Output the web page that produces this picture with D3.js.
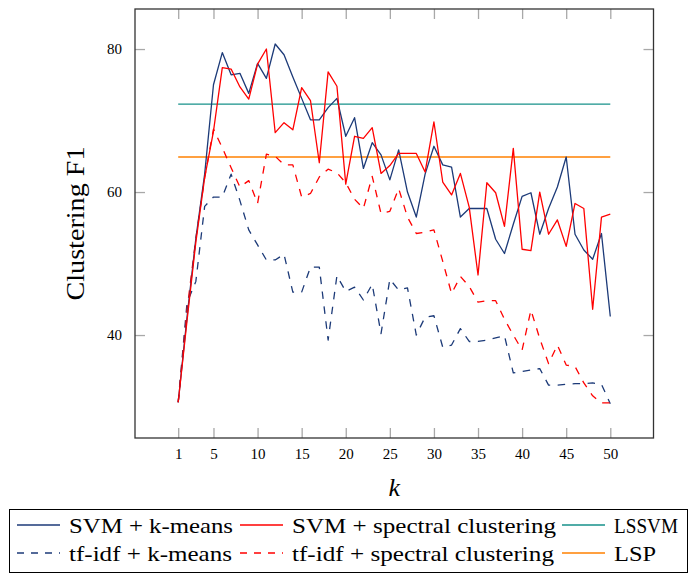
<!DOCTYPE html>
<html>
<head>
<meta charset="utf-8">
<script src="https://cdn.jsdelivr.net/npm/d3@7"></script>
<style>
  body { margin: 0; background: #fff; }
  svg { display: block; }
  text { font-family: "Liberation Serif", "DejaVu Serif", serif; fill: #000; }
</style>
</head>
<body>
<svg id="chart" width="692" height="574"></svg>
<script>
const ks = d3.range(1, 51);
const xTicks = [1, 5, 10, 15, 20, 25, 30, 35, 40, 45, 50];
const yTicks = [40, 60, 80];

const svmKmeans = [30.6, 42.5, 53.5, 62.5, 75.0, 79.5, 76.4, 76.6, 73.8, 78.0,
  75.9, 80.7, 79.2, 76.1, 73.1, 70.1, 70.1, 71.8, 73.1, 67.8,
  70.4, 63.3, 66.9, 65.2, 61.7, 65.9, 60.0, 56.5, 62.5, 66.4,
  63.8, 63.5, 56.5, 57.7, 57.7, 57.7, 53.4, 51.4, 55.5, 59.4,
  59.9, 54.1, 57.7, 60.7, 64.9, 54.1, 51.9, 50.6, 54.2, 42.6];
const svmSpectral = [30.6, 42.0, 53.0, 62.0, 68.5, 77.4, 77.2, 74.7, 73.0, 77.9,
  80.0, 68.3, 69.7, 68.7, 74.6, 72.8, 64.1, 76.8, 74.8, 61.1,
  67.8, 67.5, 69.0, 62.6, 63.7, 65.4, 65.4, 65.4, 62.8, 69.8,
  61.4, 59.6, 62.6, 57.9, 48.4, 61.3, 59.9, 55.2, 66.1, 52.0,
  51.8, 60.0, 54.1, 56.1, 52.4, 58.4, 57.7, 43.6, 56.5, 56.9];
const tfidfKmeans = [30.6, 44.5, 47.5, 58.0, 59.3, 59.3, 62.5, 58.8, 54.7, 52.6,
  50.5, 50.5, 51.3, 46.0, 46.0, 49.5, 49.5, 39.3, 48.3, 46.1,
  46.7, 44.9, 47.1, 40.2, 47.8, 46.3, 46.6, 40.0, 42.5, 42.7,
  38.3, 38.6, 40.9, 39.1, 39.1, 39.3, 39.6, 39.9, 34.7, 34.9,
  35.1, 35.3, 33.0, 33.0, 33.1, 33.2, 33.2, 33.3, 33.1, 30.4];
const tfidfSpectral = [30.6, 43.5, 53.5, 62.0, 68.8, 66.2, 63.4, 60.7, 61.6, 58.4,
  65.3, 65.0, 63.8, 63.8, 59.3, 59.8, 62.1, 63.2, 62.7, 61.3,
  59.0, 57.7, 62.2, 57.0, 57.3, 60.5, 56.5, 54.2, 54.4, 54.7,
  50.3, 45.8, 48.2, 46.8, 44.6, 44.8, 44.8, 42.2, 40.0, 37.9,
  43.5, 39.5, 36.0, 38.6, 35.8, 35.6, 33.3, 31.5, 30.5, 30.5];
const lssvm = 72.3;
const lsp = 64.9;

const seriesNames = ["SVM + k-means", "SVM + spectral clustering", "LSSVM",
                     "tf-idf + k-means", "tf-idf + spectral clustering", "LSP"];

const series = [
  { name: seriesNames[0], values: svmKmeans, color: "#1c3a78", dash: null },
  { name: seriesNames[1], values: svmSpectral, color: "#ff0000", dash: null },
  { name: seriesNames[2], values: ks.map(() => lssvm), color: "#16918a", dash: null },
  { name: seriesNames[3], values: tfidfKmeans, color: "#1c3a78", dash: "7.5,7.5" },
  { name: seriesNames[4], values: tfidfSpectral, color: "#ff0000", dash: "7.5,7.5" },
  { name: seriesNames[5], values: ks.map(() => lsp), color: "#ff8000", dash: null }
];
const legendTextWidths = [164, 264, 64, 163, 262, 42];

const svg = d3.select("#chart");
const L = 135, R = 653.5, T = 9, B = 438;
const x = d3.scaleLinear().domain([-3.9, 54.9]).range([L, R]);
const y = d3.scaleLinear().domain([25.6, 85.6]).range([B, T]);

const tickColor = "#a8a8a8";
function styleAxis(g) {
  g.select(".domain").remove();
  g.selectAll(".tick line").attr("stroke", tickColor).attr("stroke-width", 1.3);
  g.selectAll(".tick text").style("font-size", "15px").attr("fill", "#000");
}

svg.append("g").attr("transform", `translate(0,${B})`)
  .call(d3.axisBottom(x).tickValues(xTicks).tickSize(-10).tickPadding(10))
  .call(styleAxis);
svg.append("g").attr("transform", `translate(0,${T})`)
  .call(d3.axisTop(x).tickValues(xTicks).tickSize(-10).tickFormat(""))
  .call(styleAxis);
svg.append("g").attr("transform", `translate(${L},0)`)
  .call(d3.axisLeft(y).tickValues(yTicks).tickSize(-10).tickPadding(13))
  .call(styleAxis);
svg.append("g").attr("transform", `translate(${R},0)`)
  .call(d3.axisRight(y).tickValues(yTicks).tickSize(-10).tickFormat(""))
  .call(styleAxis);

const line = d3.line().x((d, i) => x(ks[i])).y(d => y(d));
const drawOrder = [2, 5, 3, 4, 0, 1];
drawOrder.forEach(i => {
  const s = series[i];
  svg.append("path")
    .datum(s.values)
    .attr("fill", "none")
    .attr("stroke", s.color)
    .attr("stroke-width", 1.3)
    .attr("stroke-linejoin", "round")
    .attr("stroke-dasharray", s.dash)
    .attr("d", line);
});

svg.append("rect")
  .attr("x", L).attr("y", T).attr("width", R - L).attr("height", B - T)
  .attr("fill", "none").attr("stroke", "#333").attr("stroke-width", 1.3);

svg.append("text")
  .attr("transform", `translate(84,${(T + B) / 2}) rotate(-90)`)
  .attr("text-anchor", "middle")
  .attr("textLength", 154).attr("lengthAdjust", "spacingAndGlyphs")
  .style("font-size", "26px")
  .text("Clustering F1");

svg.append("text")
  .attr("x", x(25.5)).attr("y", 496)
  .attr("text-anchor", "middle")
  .style("font-size", "26px").style("font-style", "italic")
  .text("k");

// legend
const legend = svg.append("g");
legend.append("rect")
  .attr("x", 9.5).attr("y", 509.5).attr("width", 678).attr("height", 63)
  .attr("fill", "#fff").attr("stroke", "#000").attr("stroke-width", 1);
const colX = [17, 240, 562];
const rowY = [525, 553];
series.forEach((s, i) => {
  const c = i % 3, r = Math.floor(i / 3);
  const g = legend.append("g").attr("transform", `translate(${colX[c]},${rowY[r]})`);
  g.append("line").attr("x1", 0).attr("x2", 43).attr("y1", 0).attr("y2", 0)
    .attr("stroke", s.color).attr("stroke-width", 1.3)
    .attr("stroke-dasharray", s.dash ? "7,7" : null);
  g.append("text").attr("x", 52).attr("y", 0).attr("dy", "0.35em")
    .attr("textLength", legendTextWidths[i]).attr("lengthAdjust", "spacingAndGlyphs")
    .style("font-size", "22px").text(s.name);
});
</script>
</body>
</html>
